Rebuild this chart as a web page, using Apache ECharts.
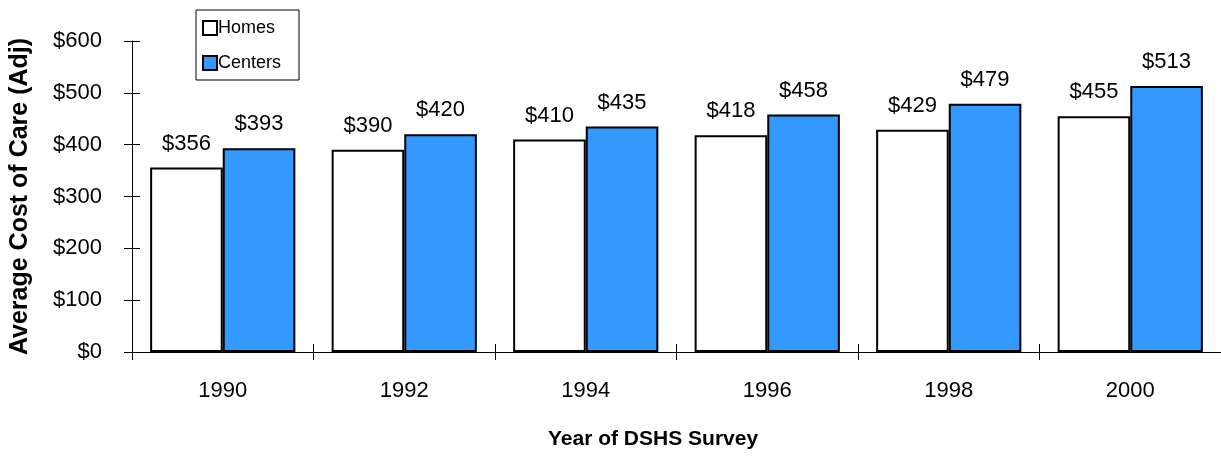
<!DOCTYPE html>
<html><head><meta charset="utf-8">
<script src="https://cdn.jsdelivr.net/npm/echarts@6/dist/echarts.min.js"></script>
<style>html,body{margin:0;padding:0;background:#fff}#c{width:1221px;height:456px}</style>
</head><body><div id="c"></div>
<script>
const categories = ['1990','1992','1994','1996','1998','2000'];
const homes = [356, 390, 410, 418, 429, 455];
const centers = [393, 420, 435, 458, 479, 513];
const yTicks = [0, 100, 200, 300, 400, 500, 600];

const FONT = 'Arial, "Liberation Sans", sans-serif';
const chart = echarts.init(document.getElementById('c'), null, {renderer: 'canvas'});
const lbl = {show: true, position: 'top', distance: 13, formatter: p => '$' + p.value, color: '#000', fontSize: 22, fontFamily: FONT};
chart.setOption({
  animation: false,
  textStyle: {fontFamily: FONT},
  grid: {left: 132, width: 1097, top: 41, bottom: 104},
  legend: {
    orient: 'vertical', left: 196, top: 10,
    padding: [9, 18, 8, 6], itemGap: 17, itemWidth: 14, itemHeight: 14,
    icon: 'rect',
    borderColor: '#000', borderWidth: 1,
    textStyle: {fontSize: 18, color: '#000', fontFamily: FONT, padding: [0, 0, 0, -4]},
    data: ['Homes', 'Centers']
  },
  xAxis: [{
    type: 'category', data: categories,
    axisLine: {lineStyle: {color: '#000', width: 1}},
    axisTick: {show: true, length: 8, lineStyle: {color: '#000'}},
    axisLabel: {margin: 28, fontSize: 22, color: '#000', fontFamily: FONT}
  }, {
    type: 'category', data: categories, position: 'bottom',
    axisLine: {show: false},
    axisTick: {show: true, inside: true, length: 8, lineStyle: {color: '#000'}},
    axisLabel: {show: false}
  }],
  yAxis: [{
    type: 'value', min: yTicks[0], max: yTicks[yTicks.length - 1], interval: 100,
    name: 'Average Cost of Care (Adj)', nameLocation: 'middle', nameGap: 99,
    nameTextStyle: {fontSize: 25, fontWeight: 'bold', color: '#000', fontFamily: FONT},
    axisLine: {show: true, lineStyle: {color: '#000', width: 1}},
    axisTick: {show: true, length: 8, lineStyle: {color: '#000'}},
    splitLine: {show: false},
    axisLabel: {margin: 30, fontSize: 22, color: '#000', fontFamily: FONT, formatter: v => '$' + v}
  }, {
    type: 'value', min: yTicks[0], max: yTicks[yTicks.length - 1], interval: 100, position: 'left',
    axisLine: {show: false},
    axisTick: {show: true, inside: true, length: 8, lineStyle: {color: '#000'}},
    splitLine: {show: false}, axisLabel: {show: false}
  }],
  graphic: [{
    type: 'text', left: 548, top: 429,
    style: {text: 'Year of DSHS Survey', font: 'bold 21px ' + FONT, fill: '#000'}
  }],
  series: [{
    name: 'Homes', type: 'bar', data: homes, barGap: '0%', barCategoryGap: '20%',
    itemStyle: {color: '#fff', borderColor: '#000', borderWidth: 2},
    label: lbl
  }, {
    name: 'Centers', type: 'bar', data: centers,
    itemStyle: {color: '#3399FF', borderColor: '#000', borderWidth: 2},
    label: lbl
  }]
});
</script></body></html>
